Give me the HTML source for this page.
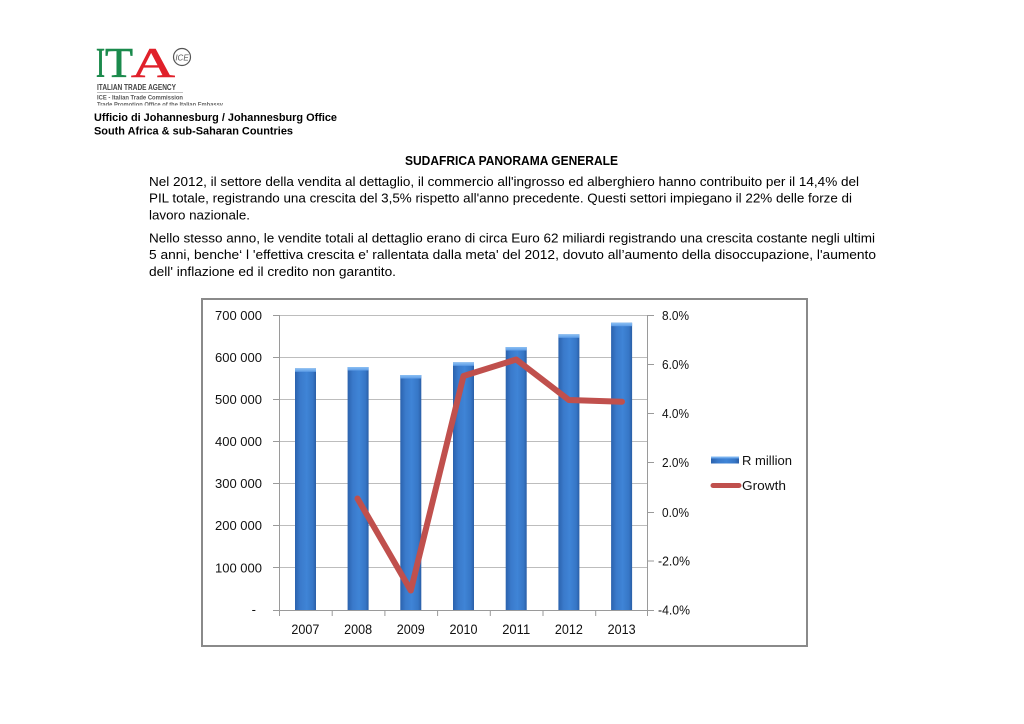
<!DOCTYPE html>
<html>
<head>
<meta charset="utf-8">
<style>
html,body{margin:0;padding:0;background:#fff;}
body{width:1024px;height:724px;overflow:hidden;}
svg{display:block;}
</style>
</head>
<body>
<svg width="1024" height="724" viewBox="0 0 1024 724" xmlns="http://www.w3.org/2000/svg">
<defs>
  <linearGradient id="barg" x1="0" y1="0" x2="1" y2="0">
    <stop offset="0" stop-color="#2b62ad"/>
    <stop offset="0.25" stop-color="#3a7acb"/>
    <stop offset="0.55" stop-color="#3f84d6"/>
    <stop offset="0.85" stop-color="#3676c6"/>
    <stop offset="1" stop-color="#2a5ea6"/>
  </linearGradient>
  <linearGradient id="capg" x1="0" y1="0" x2="0" y2="1">
    <stop offset="0" stop-color="#8cc0f4"/>
    <stop offset="1" stop-color="#5d9ce6"/>
  </linearGradient>
</defs>

<!-- Logo -->
<text x="96" y="77" font-family="Liberation Serif, serif" font-size="42" fill="#1b8a4c" stroke="#1b8a4c" stroke-width="0.6" textLength="9" lengthAdjust="spacingAndGlyphs">I</text>
<text x="105" y="77" font-family="Liberation Serif, serif" font-size="42" fill="#1b8a4c" stroke="#1b8a4c" stroke-width="0.6" textLength="28" lengthAdjust="spacingAndGlyphs">T</text>
<text x="131" y="77" font-family="Liberation Serif, serif" font-size="42" fill="#e0202a" stroke="#e0202a" stroke-width="0.6" textLength="44" lengthAdjust="spacingAndGlyphs">A</text>
<circle cx="182" cy="57" r="8.5" fill="none" stroke="#555" stroke-width="1.2"/>
<text x="182" y="60.5" font-family="Liberation Sans, sans-serif" font-size="8" font-style="italic" fill="#555" text-anchor="middle">ICE</text>
<text x="97" y="90" font-family="Liberation Sans, sans-serif" font-size="8" font-weight="bold" fill="#444" textLength="79" lengthAdjust="spacingAndGlyphs">ITALIAN TRADE AGENCY</text>
<line x1="97" y1="92.5" x2="183" y2="92.5" stroke="#aaa" stroke-width="0.8"/>
<text x="97" y="99.5" font-family="Liberation Sans, sans-serif" font-size="6.5" font-weight="bold" fill="#555" textLength="86" lengthAdjust="spacingAndGlyphs">ICE - Italian Trade Commission</text>
<text x="97" y="106.5" font-family="Liberation Sans, sans-serif" font-size="6.5" font-weight="bold" fill="#666" textLength="126" lengthAdjust="spacingAndGlyphs">Trade Promotion Office of the Italian Embassy</text>
<rect x="90" y="105.5" width="150" height="4" fill="#fff"/>

<text x="94" y="121" font-family="Liberation Sans, sans-serif" font-size="11" font-weight="bold" fill="#000" textLength="243" lengthAdjust="spacingAndGlyphs">Ufficio di Johannesburg / Johannesburg Office</text>
<text x="94" y="134.5" font-family="Liberation Sans, sans-serif" font-size="11" font-weight="bold" fill="#000" textLength="199" lengthAdjust="spacingAndGlyphs">South Africa &amp; sub-Saharan Countries</text>

<!-- Title & body -->
<g font-family="Liberation Sans, sans-serif" fill="#000">
<text x="405" y="165" font-size="13" font-weight="bold" textLength="213" lengthAdjust="spacingAndGlyphs">SUDAFRICA PANORAMA GENERALE</text>
<g font-size="13.2">
<text x="149" y="186" textLength="710" lengthAdjust="spacingAndGlyphs">Nel 2012, il settore della vendita al dettaglio, il commercio all'ingrosso ed alberghiero hanno contribuito per il 14,4% del</text>
<text x="149" y="202.7" textLength="703" lengthAdjust="spacingAndGlyphs">PIL totale, registrando una crescita del 3,5% rispetto all'anno precedente. Questi settori impiegano il 22% delle forze di</text>
<text x="149" y="219.3" textLength="101" lengthAdjust="spacingAndGlyphs">lavoro nazionale.</text>
<text x="149" y="242.5" textLength="726" lengthAdjust="spacingAndGlyphs">Nello stesso anno, le vendite totali al dettaglio erano di circa Euro 62 miliardi registrando una crescita costante negli ultimi</text>
<text x="149" y="259.2" textLength="727" lengthAdjust="spacingAndGlyphs">5 anni, benche‘ l 'effettiva crescita e' rallentata dalla meta' del 2012, dovuto all’aumento della disoccupazione, l'aumento</text>
<text x="149" y="276" textLength="247" lengthAdjust="spacingAndGlyphs">dell' inflazione ed il credito non garantito.</text>
</g>
</g>

<!-- Chart frame -->
<rect x="202" y="299" width="605" height="347" fill="#fff" stroke="#8a8a8a" stroke-width="2"/>

<!-- gridlines -->
<g stroke="#bdbdbd" stroke-width="1">
  <line x1="279" y1="315.5" x2="648" y2="315.5"/>
  <line x1="279" y1="357.5" x2="648" y2="357.5"/>
  <line x1="279" y1="399.5" x2="648" y2="399.5"/>
  <line x1="279" y1="441.5" x2="648" y2="441.5"/>
  <line x1="279" y1="483.5" x2="648" y2="483.5"/>
  <line x1="279" y1="525.5" x2="648" y2="525.5"/>
  <line x1="279" y1="567.5" x2="648" y2="567.5"/>
</g>
<!-- axes -->
<g stroke="#9a9a9a" stroke-width="1">
  <line x1="279.5" y1="315" x2="279.5" y2="610"/>
  <line x1="647.5" y1="315" x2="647.5" y2="610"/>
  <line x1="273" y1="610.5" x2="654" y2="610.5"/>
  <line x1="273" y1="315.5" x2="279" y2="315.5"/>
  <line x1="273" y1="357.5" x2="279" y2="357.5"/>
  <line x1="273" y1="399.5" x2="279" y2="399.5"/>
  <line x1="273" y1="441.5" x2="279" y2="441.5"/>
  <line x1="273" y1="483.5" x2="279" y2="483.5"/>
  <line x1="273" y1="525.5" x2="279" y2="525.5"/>
  <line x1="273" y1="567.5" x2="279" y2="567.5"/>
  <line x1="648" y1="315.5" x2="654" y2="315.5"/>
  <line x1="648" y1="364.5" x2="654" y2="364.5"/>
  <line x1="648" y1="413.5" x2="654" y2="413.5"/>
  <line x1="648" y1="462.5" x2="654" y2="462.5"/>
  <line x1="648" y1="512.5" x2="654" y2="512.5"/>
  <line x1="648" y1="561" x2="654" y2="561"/>
  <line x1="279.5" y1="610" x2="279.5" y2="616"/>
  <line x1="332.2" y1="610" x2="332.2" y2="616"/>
  <line x1="384.9" y1="610" x2="384.9" y2="616"/>
  <line x1="437.6" y1="610" x2="437.6" y2="616"/>
  <line x1="490.3" y1="610" x2="490.3" y2="616"/>
  <line x1="543" y1="610" x2="543" y2="616"/>
  <line x1="595.7" y1="610" x2="595.7" y2="616"/>
  <line x1="647.5" y1="610" x2="647.5" y2="616"/>
</g>

<!-- bars -->
<g>
  <rect x="295" y="368.3" width="21" height="241.7" fill="url(#barg)"/>
  <rect x="295" y="368.3" width="21" height="3.5" fill="url(#capg)"/>
  <rect x="347.6" y="367" width="21" height="243" fill="url(#barg)"/>
  <rect x="347.6" y="367" width="21" height="3.5" fill="url(#capg)"/>
  <rect x="400.3" y="375" width="21" height="235" fill="url(#barg)"/>
  <rect x="400.3" y="375" width="21" height="3.5" fill="url(#capg)"/>
  <rect x="453" y="362.3" width="21" height="247.7" fill="url(#barg)"/>
  <rect x="453" y="362.3" width="21" height="3.5" fill="url(#capg)"/>
  <rect x="505.7" y="347" width="21" height="263" fill="url(#barg)"/>
  <rect x="505.7" y="347" width="21" height="3.5" fill="url(#capg)"/>
  <rect x="558.4" y="334.3" width="21" height="275.7" fill="url(#barg)"/>
  <rect x="558.4" y="334.3" width="21" height="3.5" fill="url(#capg)"/>
  <rect x="611.1" y="322.7" width="21" height="287.3" fill="url(#barg)"/>
  <rect x="611.1" y="322.7" width="21" height="3.5" fill="url(#capg)"/>
</g>

<!-- growth line -->
<polyline points="357.5,498.5 410.8,590.5 463.5,376 516.2,359.5 568.9,400 622,401.7" fill="none" stroke="#c0504d" stroke-width="6" stroke-linejoin="round" stroke-linecap="round"/>

<!-- left axis labels -->
<g font-family="Liberation Sans, sans-serif" font-size="13" fill="#111" text-anchor="end">
  <text x="262" y="320" textLength="47" lengthAdjust="spacingAndGlyphs">700 000</text>
  <text x="262" y="362" textLength="47" lengthAdjust="spacingAndGlyphs">600 000</text>
  <text x="262" y="404" textLength="47" lengthAdjust="spacingAndGlyphs">500 000</text>
  <text x="262" y="446" textLength="47" lengthAdjust="spacingAndGlyphs">400 000</text>
  <text x="262" y="488" textLength="47" lengthAdjust="spacingAndGlyphs">300 000</text>
  <text x="262" y="530" textLength="47" lengthAdjust="spacingAndGlyphs">200 000</text>
  <text x="262" y="572.5" textLength="47" lengthAdjust="spacingAndGlyphs">100 000</text>
  <text x="256" y="614">-</text>
</g>

<!-- right axis labels -->
<g font-family="Liberation Sans, sans-serif" font-size="13" fill="#111">
  <text x="662" y="320" textLength="27" lengthAdjust="spacingAndGlyphs">8.0%</text>
  <text x="662" y="369" textLength="27" lengthAdjust="spacingAndGlyphs">6.0%</text>
  <text x="662" y="418" textLength="27" lengthAdjust="spacingAndGlyphs">4.0%</text>
  <text x="662" y="467" textLength="27" lengthAdjust="spacingAndGlyphs">2.0%</text>
  <text x="662" y="517" textLength="27" lengthAdjust="spacingAndGlyphs">0.0%</text>
  <text x="658" y="565.5" textLength="32" lengthAdjust="spacingAndGlyphs">-2.0%</text>
  <text x="658" y="614.5" textLength="32" lengthAdjust="spacingAndGlyphs">-4.0%</text>
</g>

<!-- x axis labels -->
<g font-family="Liberation Sans, sans-serif" font-size="13.5" fill="#111" text-anchor="middle">
  <text x="305.4" y="634" textLength="28" lengthAdjust="spacingAndGlyphs">2007</text>
  <text x="358.1" y="634" textLength="28" lengthAdjust="spacingAndGlyphs">2008</text>
  <text x="410.8" y="634" textLength="28" lengthAdjust="spacingAndGlyphs">2009</text>
  <text x="463.5" y="634" textLength="28" lengthAdjust="spacingAndGlyphs">2010</text>
  <text x="516.2" y="634" textLength="28" lengthAdjust="spacingAndGlyphs">2011</text>
  <text x="568.9" y="634" textLength="28" lengthAdjust="spacingAndGlyphs">2012</text>
  <text x="621.6" y="634" textLength="28" lengthAdjust="spacingAndGlyphs">2013</text>
</g>

<!-- legend -->
<rect x="711" y="456.5" width="28" height="7" fill="url(#barg)"/>
<rect x="711" y="456.5" width="28" height="2" fill="url(#capg)"/>
<line x1="713" y1="485.5" x2="739" y2="485.5" stroke="#c0504d" stroke-width="5" stroke-linecap="round"/>
<g font-family="Liberation Sans, sans-serif" font-size="13" fill="#111">
  <text x="742" y="465" textLength="50" lengthAdjust="spacingAndGlyphs">R million</text>
  <text x="742" y="490" textLength="44" lengthAdjust="spacingAndGlyphs">Growth</text>
</g>
</svg>
</body>
</html>
